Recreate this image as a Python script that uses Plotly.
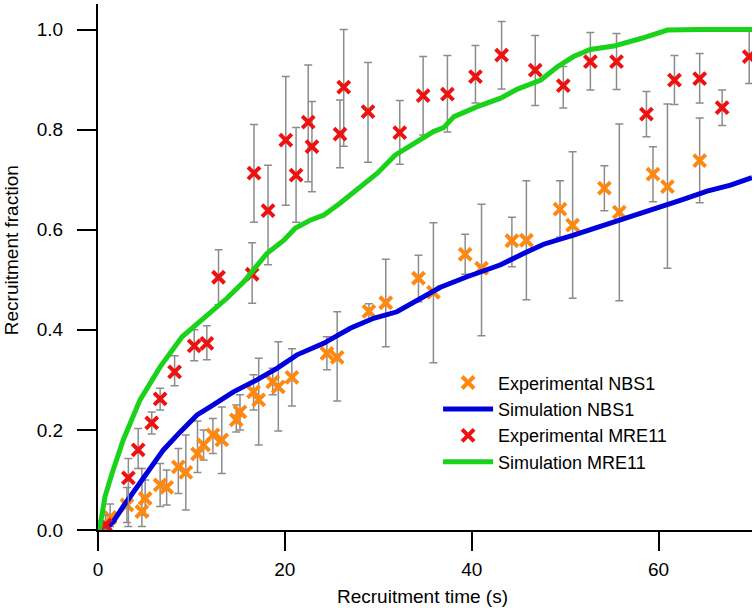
import plotly.graph_objects as go

# ---- Experimental NBS1 (orange) ----
nbs1_t = [1.3, 3.1, 4.7, 5.05, 6.65, 7.35, 8.6, 9.4, 10.65, 11.3, 12.3, 13.25, 14.8, 15.2,
          16.65, 17.2, 18.7, 19.3, 20.75, 24.5, 25.6, 29.0, 30.8, 34.3, 35.9, 39.3, 41.05,
          44.3, 45.85, 49.45, 50.8, 54.2, 55.8, 59.4, 60.95, 64.4]
nbs1_v = [0.025, 0.05, 0.037, 0.063, 0.09, 0.085, 0.126, 0.115, 0.152, 0.17, 0.19, 0.18, 0.22,
          0.236, 0.276, 0.26, 0.296, 0.286, 0.305, 0.353, 0.345, 0.437, 0.454, 0.503, 0.475,
          0.551, 0.523, 0.578, 0.579, 0.641, 0.609, 0.683, 0.635, 0.711, 0.686, 0.738]
nbs1_hi = [0.052, 0.085, 0.123, 0.10, 0.133, 0.12, 0.163, 0.19, 0.218, 0.20, 0.223, 0.246, 0.25,
           0.27, 0.31, 0.343, 0.323, 0.376, 0.362, 0.386, 0.436, 0.452, 0.541, 0.549, 0.614,
           0.591, 0.651, 0.625, 0.698, 0.698, 0.756, 0.728, 0.811, 0.766, 0.851, 0.823]
nbs1_lo = [0.007, 0.015, 0.007, 0.03, 0.047, 0.05, 0.073, 0.04, 0.115, 0.14, 0.153, 0.113, 0.196,
           0.20, 0.24, 0.17, 0.27, 0.198, 0.248, 0.32, 0.258, 0.42, 0.366, 0.456, 0.334, 0.511,
           0.388, 0.526, 0.46, 0.585, 0.463, 0.638, 0.458, 0.656, 0.523, 0.654]

# ---- Simulation NBS1 (blue) ----
sim_nbs1_t = [0.75, 1.65, 2.7, 4.0, 5.4, 7.0, 8.8, 10.6, 12.0, 14.5, 17.0, 19.15, 21.3, 24.15,
              27.0, 29.5, 32.0, 34.5, 36.65, 39.5, 43.1, 45.6, 47.7, 50.9, 53.8, 56.65, 59.5,
              62.4, 65.2, 67.7, 70.0]
sim_nbs1_v = [0.0, 0.017, 0.047, 0.081, 0.12, 0.16, 0.196, 0.23, 0.246, 0.276, 0.30, 0.323, 0.35,
              0.373, 0.403, 0.423, 0.436, 0.463, 0.485, 0.506, 0.53, 0.553, 0.571, 0.589, 0.606,
              0.623, 0.641, 0.659, 0.677, 0.689, 0.704]

# ---- Experimental MRE11 (red) ----
mre11_t = [0.8, 3.25, 4.3, 5.75, 6.65, 8.2, 10.3, 11.65, 12.9, 16.5, 16.7, 18.2, 20.1, 21.2,
           22.5, 22.9, 25.9, 26.3, 28.9, 32.3, 34.8, 37.4, 40.4, 43.2, 46.8, 49.8, 52.7, 55.5,
           58.7, 61.7, 64.4, 66.8, 69.7]
mre11_v = [0.01, 0.104, 0.16, 0.214, 0.262, 0.316, 0.368, 0.373, 0.505, 0.511, 0.713, 0.638,
           0.779, 0.709, 0.815, 0.766, 0.791, 0.885, 0.836, 0.794, 0.868, 0.871, 0.906, 0.949,
           0.919, 0.888, 0.936, 0.936, 0.831, 0.899, 0.902, 0.844, 0.946]
mre11_hi = [0.03, 0.143, 0.203, 0.236, 0.283, 0.348, 0.40, 0.408, 0.56, 0.574, 0.81, 0.729,
            0.906, 0.804, 0.929, 0.856, 0.859, 1.0, 0.934, 0.858, 0.946, 0.948, 0.968, 1.016,
            0.988, 0.926, 0.994, 0.992, 0.876, 0.948, 0.952, 0.879, 1.0]
mre11_lo = [0.0, 0.007, 0.123, 0.192, 0.24, 0.288, 0.338, 0.34, 0.45, 0.453, 0.615, 0.53,
            0.649, 0.615, 0.696, 0.676, 0.724, 0.767, 0.735, 0.731, 0.789, 0.795, 0.853, 0.881,
            0.848, 0.843, 0.879, 0.880, 0.786, 0.850, 0.853, 0.808, 0.892]

# ---- Simulation MRE11 (green) ----
sim_mre11_t = [0.15, 0.75, 1.5, 2.7, 4.5, 6.65, 9.0, 11.3, 13.8, 15.6, 18.1, 19.9, 21.1, 22.7,
               24.15, 25.9, 27.7, 29.9, 31.8, 34.2, 35.9, 37.0, 38.1, 40.6, 43.1, 44.9, 47.4,
               49.2, 50.9, 52.7, 55.2, 58.1, 59.5, 60.95, 64.5, 70.0]
sim_mre11_v = [0.0, 0.067, 0.113, 0.18, 0.26, 0.326, 0.386, 0.423, 0.463, 0.496, 0.553, 0.579,
               0.603, 0.619, 0.629, 0.653, 0.679, 0.713, 0.749, 0.776, 0.796, 0.804, 0.826,
               0.846, 0.863, 0.881, 0.899, 0.926, 0.946, 0.960, 0.967, 0.982, 0.990, 0.999,
               1.0, 1.0]

x_ticks = [0, 20, 40, 60]
y_ticks = [0.0, 0.2, 0.4, 0.6, 0.8, 1.0]
y_tick_labels = ["0.0", "0.2", "0.4", "0.6", "0.8", "1.0"]

ORANGE = "#ff8811"
RED = "#ee1111"
BLUE = "#0000dd"
GREEN = "#1ad21a"
ERR = "#8c8c8c"
FONT = "Liberation Sans, Arial, sans-serif"


def err(vals, hi, lo):
    return ([h - v for h, v in zip(hi, vals)], [v - l for v, l in zip(vals, lo)])


fig = go.Figure()

up, dn = err(nbs1_v, nbs1_hi, nbs1_lo)
fig.add_trace(go.Scatter(
    x=nbs1_t, y=nbs1_v, mode="markers", name="Experimental NBS1",
    marker=dict(symbol="x-thin", size=12, line=dict(width=4, color=ORANGE), color=ORANGE),
    error_y=dict(type="data", symmetric=False, array=up, arrayminus=dn,
                 color=ERR, thickness=1.5, width=4),
))
fig.add_trace(go.Scatter(
    x=sim_nbs1_t, y=sim_nbs1_v, mode="lines", name="Simulation NBS1",
    line=dict(color=BLUE, width=5),
))
up, dn = err(mre11_v, mre11_hi, mre11_lo)
fig.add_trace(go.Scatter(
    x=mre11_t, y=mre11_v, mode="markers", name="Experimental MRE11",
    marker=dict(symbol="x-thin", size=12, line=dict(width=4, color=RED), color=RED),
    error_y=dict(type="data", symmetric=False, array=up, arrayminus=dn,
                 color=ERR, thickness=1.5, width=4),
))
fig.add_trace(go.Scatter(
    x=sim_mre11_t, y=sim_mre11_v, mode="lines", name="Simulation MRE11",
    line=dict(color=GREEN, width=5),
))

axis_common = dict(
    showline=True, linecolor="black", linewidth=2,
    ticks="outside", ticklen=19, tickwidth=2, tickcolor="black",
    showgrid=False, zeroline=False, mirror=False,
    tickfont=dict(family=FONT, size=19, color="black"),
)

fig.update_xaxes(range=[0, 70], tickvals=x_ticks, ticktext=[str(v) for v in x_ticks],
                 ticklabelstandoff=2, **axis_common)
fig.update_yaxes(range=[0, 1.051], tickvals=y_ticks, ticktext=y_tick_labels,
                 ticklabelstandoff=10, **axis_common)

fig.add_annotation(text="Recruitment time (s)", xref="paper", yref="paper",
                   x=0.496, y=-0.127, showarrow=False, xanchor="center", yanchor="middle",
                   font=dict(family=FONT, size=19, color="black"))
fig.add_annotation(text="Recruitment fraction", xref="paper", yref="paper",
                   x=-0.133, y=0.532, showarrow=False, xanchor="center", yanchor="middle",
                   textangle=-90, font=dict(family=FONT, size=19, color="black"))

fig.update_layout(
    width=756, height=608, autosize=False,
    margin=dict(l=98, r=4, t=4, b=78),
    plot_bgcolor="white", paper_bgcolor="white",
    font=dict(family=FONT, size=19, color="black"),
    showlegend=True,
    legend=dict(x=0.52, y=0.315, xanchor="left", yanchor="top",
                bgcolor="rgba(0,0,0,0)", borderwidth=0, itemwidth=50,
                font=dict(family=FONT, size=18, color="black"),
                tracegroupgap=0),
)

fig.write_html("out.html", config={"displayModeBar": False},
               post_script="document.body.style.margin='0px';")
